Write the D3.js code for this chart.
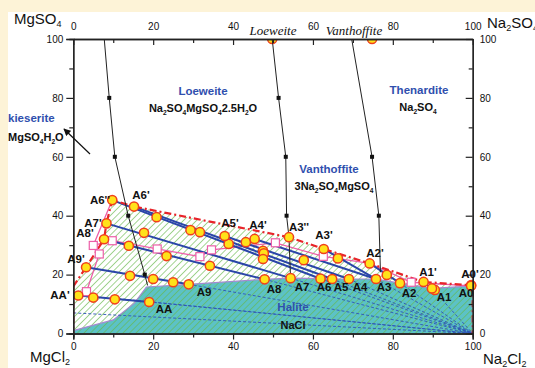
<!DOCTYPE html>
<html><head><meta charset="utf-8">
<script src="https://cdn.jsdelivr.net/npm/d3@7"></script>
<style>body{margin:0;background:#fdf3d7;}svg{display:block;font-family:"Liberation Sans",Arial,sans-serif;}</style>
</head><body>
<svg id="c" width="535" height="368"></svg>
<script>
// ---- data ----
const xTicks = [0,20,40,60,80,100];
const yTicks = [0,20,40,60,80,100];
// upper boundary (red dash-dot)
const upperBoundary = [[0,16],[3.2,22.5],[7.7,32],[8.3,37.4],[9.75,45.3],[15.2,43.1],[54,32.7],[62.7,28.7],[74.2,23.8],[87.7,17.5],[99.6,16.4],[100,16.4]];
// halite saturation boundary (lower)
const haliteBoundary = [[0,1],[10,4.6],[15.3,10.3],[18.3,15.8],[28.9,16.7],[47.9,18.4],[54.4,18.8],[61.9,18.6],[64.8,18.5],[69,18.5],[75.8,18.5],[81.8,17.1],[89.8,15.3],[100,16.2]];
// labelled points
const pointNames = ["A6''","A6'","A7'","A8'","A9'","AA'","A5'","A4'","A3''","A3'","A2'","A1'","A0'","AA","A9","A8","A7","A6","A5","A4","A3","A2","A1","A0"];
const pointU = [9.75,15.2,8.3,7.7,3.2,1.25,37.9,45.4,54,62.7,74.2,87.7,99.6,19,28.9,47.9,54.4,61.9,64.8,69,75.8,81.8,89.8,99.6];
const pointV = [45.3,43.1,37.4,32,22.5,12.9,33.1,32.1,32.7,28.7,23.8,17.5,16.4,10.7,16.7,18.4,18.8,18.6,18.5,18.5,18.5,17.1,15.3,16.2];
// unlabelled mixture points
const mixU = [20.85,17.7,13.9,23.35,14.2,20,25,29.35,31.7,38.9,43.2,47.5,47.7,47.5,57.7,34.2,66.25,78.5,5,10.4,90.5];
const mixV = [39.5,34.2,29.8,26.3,19.6,18.5,17.4,35.1,34.4,30.4,31.0,28.1,27.2,25.3,24.9,23.0,25.5,19.9,12.2,11.6,14.8];
// tie lines (start name, end name)
const tieLines = [["AA'","AA"],["A9'","A9"],["A8'","A8"],["A7'","A7"],["A6''","A6"],["A6'","A5"],["A5'","A4"],["A4'","A3"],["A3'","A3"],["A2'","A2"],["A1'","A1"],["A0'","A0"]];
// pink wet-residue lines with open squares
const pinkLines = [
  [[9.75,45.3],[5,29.9],[6.5,27],[3.3,14.2],[1.25,12.9]],
  [[5,29.9],[9.75,31.5],[21,28.7],[31.7,26.1],[34.6,28.4],[50.6,30.8],[62.6,26.2],[74.2,23.8],[84.6,17.4],[99.6,16.2]]
];
const squareU = [5,6.5,9.75,21,3.3,34.6,31.7,50.6,62.6,84.6];
const squareV = [29.9,27,31.5,28.7,14.2,28.4,26.1,30.8,26.2,17.4];
// black phase lines with square markers
const blackLines = [
  [[7.75,100],[9,80],[10.4,60],[13.75,40],[17.9,20],[18.6,16.3]],
  [[49.8,100],[51.4,80],[53.2,60],[53.4,40],[54,32.7],[54.4,18.8]],
  [[69.7,100],[74.8,60],[76.5,40],[76.9,20.8]]
];
// solid phase compositions on the top edge
const solidU = [49.8,74.8];
// blue dashed lines in halite field to Na2Cl2 corner
const dashStartU = [19,28.9,47.9,54.4,61.9,64.8,69,75.8,81.8,89.8,0,10];
const dashStartV = [10.7,16.7,18.4,18.8,18.6,18.5,18.5,18.5,17.1,15.3,7,12];

// ---- drawing ----
const svg = d3.select("#c");
const x = d3.scaleLinear([0,100],[73.3,472.7]);
const y = d3.scaleLinear([0,100],[333.5,39]);
const ptMap = {};
pointNames.forEach((n,i)=>ptMap[n]=[pointU[i],pointV[i]]);

svg.append("rect").attr("x",8).attr("y",12).attr("width",527).attr("height",356).attr("fill","#fff");

const defs = svg.append("defs");
const pat = defs.append("pattern").attr("id","hg").attr("patternUnits","userSpaceOnUse")
  .attr("width",4.6).attr("height",4.6).attr("patternTransform","rotate(45)");
pat.append("line").attr("x1",0).attr("y1",0).attr("x2",0).attr("y2",4.6).attr("stroke","#66b84a").attr("stroke-width",1.2);
defs.append("clipPath").attr("id","plot").append("rect").attr("x",x(0)).attr("y",y(100)).attr("width",x(100)-x(0)).attr("height",y(0)-y(100));

const g = svg.append("g").attr("clip-path","url(#plot)");
const line = d3.line().x(d=>x(d[0])).y(d=>y(d[1]));

// green hatched field
const fieldPoly = upperBoundary.concat([[100,16.2]]).concat(haliteBoundary.slice().reverse());
g.append("path").attr("d",line(fieldPoly)+"Z").attr("fill","url(#hg)");
// halite field
const halPoly = haliteBoundary.concat([[100,0],[0,0]]);
g.append("path").attr("d",line(halPoly)+"Z").attr("fill","#5cc2c6");
g.append("path").attr("d",line(halPoly)+"Z").attr("fill","url(#hg)");
g.append("path").attr("d",line(haliteBoundary)).attr("fill","none").attr("stroke","#a48ad0").attr("stroke-width",1.2);

// dashed blue lines
dashStartU.forEach((u,i)=>{
  g.append("path").attr("d",line([[u,dashStartV[i]],[100,0]])).attr("stroke","#2f55b8").attr("stroke-width",0.9)
   .attr("stroke-dasharray","3,2").attr("fill","none");
});

// pink lines
pinkLines.forEach(pl=>g.append("path").attr("d",line(pl)).attr("fill","none").attr("stroke","#ec5fa8").attr("stroke-width",1.3));

// tie lines
tieLines.forEach(t=>g.append("path").attr("d",line([ptMap[t[0]],ptMap[t[1]]])).attr("fill","none").attr("stroke","#2a45a8").attr("stroke-width",2));

// upper boundary red dash-dot
const dd = "7,3,2,3";
g.append("path").attr("d",line(upperBoundary)).attr("fill","none").attr("stroke","#e8242a").attr("stroke-width",2.2).attr("stroke-dasharray",dd);
g.append("path").attr("d",line([[0,16],[0,0]])).attr("fill","none").attr("stroke","#e8242a").attr("stroke-width",2.2).attr("stroke-dasharray",dd);
g.append("path").attr("d",line([[100,16.4],[100,0]])).attr("fill","none").attr("stroke","#e8242a").attr("stroke-width",2.2).attr("stroke-dasharray",dd);

// black lines
blackLines.forEach(bl=>{
  svg.append("path").attr("d",line(bl)).attr("fill","none").attr("stroke","#222").attr("stroke-width",1);
  bl.slice(1,-1).forEach(d=>svg.append("rect").attr("x",x(d[0])-2).attr("y",y(d[1])-2).attr("width",4).attr("height",4).attr("fill","#111"));
});

// squares
squareU.forEach((u,i)=>g.append("rect").attr("x",x(u)-4).attr("y",y(squareV[i])-4).attr("width",8).attr("height",8)
  .attr("fill","#fff").attr("stroke","#ec5fa8").attr("stroke-width",1.2));

// circles
const circ = (sel,u,v)=>sel.append("circle").attr("cx",x(u)).attr("cy",y(v)).attr("r",4.6).attr("fill","#ffe21a").attr("stroke","#f0401c").attr("stroke-width",1.5);
mixU.forEach((u,i)=>circ(svg,u,mixV[i]));
pointU.forEach((u,i)=>circ(svg,u,pointV[i]));
solidU.forEach(u=>circ(g,u,100));

// axes
const ax = svg.append("g").attr("font-size",12);
ax.append("g").attr("transform",`translate(0,${y(0)})`).call(d3.axisBottom(x).tickValues(xTicks).tickSize(6).tickPadding(3));
ax.append("g").attr("transform",`translate(0,${y(0)})`).call(d3.axisBottom(x).tickValues([10,30,50,70,90]).tickSize(4).tickFormat(""));
ax.append("g").attr("transform",`translate(0,${y(100)})`).call(d3.axisTop(x).tickValues(xTicks).tickSizeInner(-6).tickSizeOuter(0).tickPadding(9));
ax.append("g").attr("transform",`translate(0,${y(100)})`).call(d3.axisTop(x).tickValues([10,30,50,70,90]).tickSizeInner(-4).tickSizeOuter(0).tickFormat(""));
ax.append("g").attr("transform",`translate(${x(0)},0)`).call(d3.axisLeft(y).tickValues(yTicks).tickSize(7).tickPadding(3));
ax.append("g").attr("transform",`translate(${x(0)},0)`).call(d3.axisLeft(y).tickValues([10,30,50,70,90]).tickSize(4).tickFormat(""));
ax.append("g").attr("transform",`translate(${x(100)},0)`).call(d3.axisRight(y).tickValues(yTicks).tickSizeInner(-7).tickSizeOuter(0).tickPadding(7));
ax.append("g").attr("transform",`translate(${x(100)},0)`).call(d3.axisRight(y).tickValues([10,30,50,70,90]).tickSizeInner(-4).tickSizeOuter(0).tickFormat(""));
ax.selectAll("text").attr("fill","#111").attr("font-family","Liberation Sans, Arial, sans-serif");
ax.selectAll("path.domain").attr("stroke","#222").attr("stroke-width",1.3);
ax.selectAll(".tick line").attr("stroke","#222").attr("stroke-width",1.2);

// text helper: parts = [text, isSub]
function rich(xp, yp, parts, opts){
  const t = svg.append("text").attr("x",xp).attr("y",yp).attr("font-size",opts.size||11)
    .attr("font-weight",opts.bold?"bold":"normal").attr("fill",opts.fill||"#111")
    .attr("text-anchor",opts.anchor||"start");
  if(opts.italic){t.attr("font-style","italic").attr("font-family","Liberation Serif, Times New Roman, serif");}
  let sub=false;
  parts.forEach(p=>{
    const s=t.append("tspan").text(p[0]);
    if(p[1] && !sub){s.attr("dy",3).attr("font-size",(opts.size||11)*0.6);sub=true;}
    else if(p[1] && sub){s.attr("font-size",(opts.size||11)*0.6);}
    else if(!p[1] && sub){s.attr("dy",-3);sub=false;}
  });
  return t;
}
const blue = "#2f4fae";
rich(14,24,[["MgSO",0],["4",1]],{size:15});
rich(487,28,[["Na",0],["2",1],["SO",0],["4",1]],{size:15});
rich(30,362,[["MgCl",0],["2",1]],{size:15});
rich(483,364,[["Na",0],["2",1],["Cl",0],["2",1]],{size:15});
rich(273,35,[["Loeweite",0]],{size:13,italic:true,anchor:"middle"});
rich(354,35,[["Vanthoffite",0]],{size:13,italic:true,anchor:"middle"});
rich(8,122,[["kieserite",0]],{size:11.5,bold:true,fill:blue});
rich(8,141,[["MgSO",0],["4",1],["H",0],["2",1],["O",0]],{size:11,bold:true});
rich(203,95,[["Loeweite",0]],{size:11.5,bold:true,fill:blue,anchor:"middle"});
rich(203,112,[["Na",0],["2",1],["SO",0],["4",1],["MgSO",0],["4",1],["2.5H",0],["2",1],["O",0]],{size:11,bold:true,anchor:"middle"});
rich(419,94,[["Thenardite",0]],{size:11.5,bold:true,fill:blue,anchor:"middle"});
rich(418,111,[["Na",0],["2",1],["SO",0],["4",1]],{size:11,bold:true,anchor:"middle"});
rich(329,173,[["Vanthoffite",0]],{size:11.5,bold:true,fill:blue,anchor:"middle"});
rich(334,190,[["3Na",0],["2",1],["SO",0],["4",1],["MgSO",0],["4",1]],{size:11,bold:true,anchor:"middle"});
rich(293,311,[["Halite",0]],{size:11.5,bold:true,fill:blue,anchor:"middle"});
rich(293,329,[["NaCl",0]],{size:11,bold:true,anchor:"middle"});
// arrow
defs.append("marker").attr("id","ar").attr("viewBox","0 0 10 10").attr("refX",9).attr("refY",5).attr("markerWidth",6).attr("markerHeight",6).attr("orient","auto")
  .append("path").attr("d","M0,0L10,5L0,10Z").attr("fill","#111");
svg.append("line").attr("x1",90).attr("y1",154).attr("x2",64).attr("y2",129).attr("stroke","#111").attr("stroke-width",1.2).attr("marker-end","url(#ar)");

// point labels
const labelPos = {"A6''":[100,204],"A6'":[141,199],"A7'":[93,227],"A8'":[85,237],"A9'":[76,263],"AA'":[60,299],
 "A5'":[230,227],"A4'":[258,229],"A3''":[299,231],"A3'":[324,239],"A2'":[375,257],"A1'":[428,276],"A0'":[470,278],
 "AA":[164,313],"A9":[204,296],"A8":[274,293],"A7":[302,291],"A6":[324,291],"A5":[341,291],"A4":[360,291],"A3":[384,291],"A2":[409,297],"A1":[444,301],"A0":[466,297]};
Object.entries(labelPos).forEach(([n,p])=>rich(p[0],p[1],[[n,0]],{size:11.5,bold:true,anchor:"middle"}));
</script>
</body></html>
